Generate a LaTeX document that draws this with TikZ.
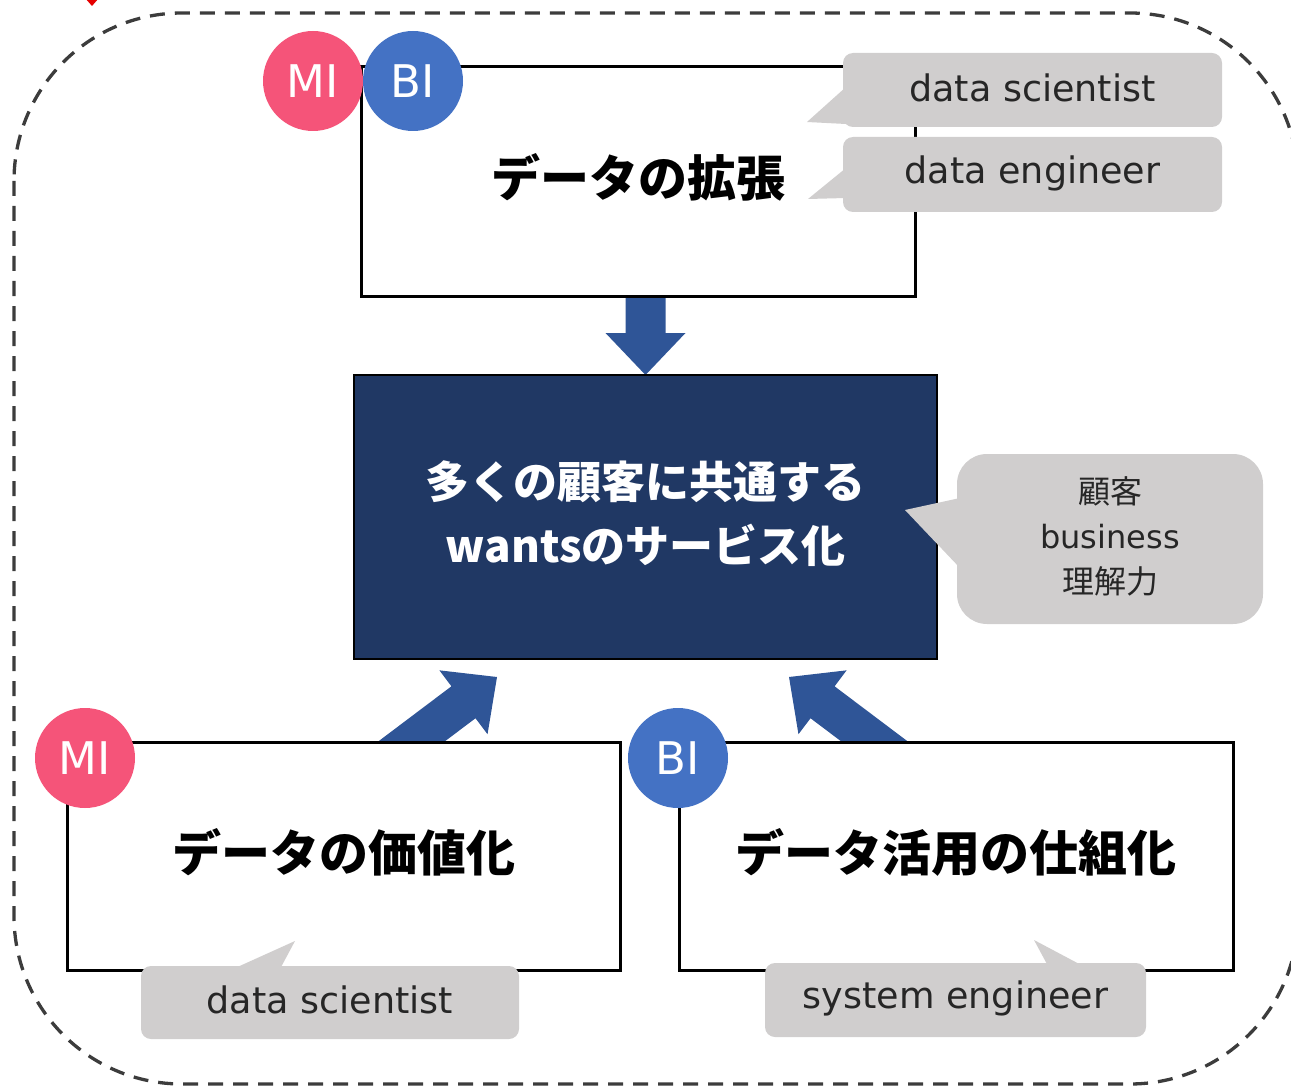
\documentclass[tikz,border=0pt]{standalone}
\usepackage{fontspec}
\newfontfamily\latin{DejaVu Sans}
\newfontfamily\cjk{Noto Sans CJK JP}
\usetikzlibrary{calc}

\definecolor{mipink}{HTML}{F55479}
\definecolor{biblue}{HTML}{4472C4}
\definecolor{arrowblue}{HTML}{2F5597}
\definecolor{navy}{HTML}{203864}
\definecolor{calloutgray}{HTML}{D0CECE}
\definecolor{callouttext}{HTML}{262626}
\definecolor{framegray}{HTML}{3C3C3C}

% block arrow: tip at #1, pointing in direction #2 (degrees), total length #3
\newcommand\blockarrow[3]{%
  \fill[arrowblue, shift={(#1)}, rotate=#2]
    (0,0) -- (-42,40) -- (-42,20) -- (-#3,20) -- (-#3,-20) -- (-42,-20) -- (-42,-40) -- cycle;}

\tikzset{
  frame/.style={draw=black, line width=3pt, fill=white, inner sep=0pt},
  title/.style={inner sep=0pt, font=\cjk\bfseries\fontsize{49}{58}\selectfont},
  callout/.style={fill=calloutgray, rounded corners=10pt, inner sep=0pt},
  callouttxt/.style={inner sep=0pt, text=callouttext, font=\latin\fontsize{36.5}{44}\selectfont},
  badge/.style={circle, minimum size=100pt, inner sep=0pt, text=white,
    font=\latin\fontsize{45}{54}\selectfont},
  tail/.style={fill=calloutgray},
}

\begin{document}
\begin{tikzpicture}[x=1pt, y=-1pt]
\useasboundingbox (0,0) rectangle (1291,1086);

% outer dashed boundary
\draw[framegray, line width=3.3pt, dash pattern=on 15pt off 10pt,
      rounded corners=168pt] (14,13) rectangle (1298,1084);

% red pointer entering from above
\fill[red!90!black] (85,-2) -- (99,-2) -- (92,6) -- cycle;

% coordinates of the block arrows
\coordinate (tipDown) at (645.5,375);
\coordinate (tipL) at (497,677);
\coordinate (tipR) at (789,677);

\blockarrow{tipDown}{-90}{79}
\blockarrow{tipL}{37}{150}
\blockarrow{tipR}{143}{150}

% boxes
\node[frame, minimum width=554pt, minimum height=229pt] (top) at (638,181.5) {};
\node[title] (topT) at ([yshift=4pt]top.center) {データの拡張};

\node[draw=black, line width=2.5pt, fill=navy, inner sep=0pt,
      minimum width=583pt, minimum height=284pt] (mid) at (645.5,517) {};
\node[inner sep=0pt, text=white, align=center,
      font=\cjk\bfseries\fontsize{44}{64}\selectfont] (midT) at ([yshift=3.5pt]mid.center)
      {多くの顧客に共通する\\wantsのサービス化};

\node[frame, minimum width=553pt, minimum height=228pt] (left) at (343.5,856) {};
\node[title] (leftT) at ([yshift=4pt]left.center) {データの価値化};
\node[frame, minimum width=554pt, minimum height=228pt] (right) at (956,856) {};
\node[title] (rightT) at ([yshift=4pt]right.center) {データ活用の仕組化};

% callouts
\fill[tail] (846,87) -- (807,122) -- (846,124) -- cycle;
\node[callout, minimum width=379pt, minimum height=74pt] (c1) at (1032.5,90) {};
\node[callouttxt] (c1T) at ([yshift=2pt]c1.center) {data scientist};
\fill[tail] (846,168) -- (808,199) -- (846,198) -- cycle;
\node[callout, minimum width=379pt, minimum height=75pt] (c2) at (1032.5,174.5) {};
\node[callouttxt] (c2T) at ([yshift=1pt]c2.center) {data engineer};

\fill[tail] (960,498) -- (905,510) -- (960,568) -- cycle;
\node[callout, rounded corners=30pt, minimum width=306pt, minimum height=170pt] (c3) at (1110,539) {};
\node[callouttxt, align=center, font=\latin\fontsize{32}{45}\selectfont] (c3T)
      at ([yshift=3pt]c3.center) {{\cjk 顧客}\\business\\{\cjk 理解力}};

\fill[tail] (233,969) -- (295,941) -- (280,969) -- cycle;
\node[callout, minimum width=378pt, minimum height=73pt] (c4) at (330,1002.5) {};
\node[callouttxt] (c4T) at ([yshift=3pt]c4.center) {data scientist};

\fill[tail] (1034,940) -- (1048,966) -- (1083,966) -- cycle;
\node[callout, minimum width=381pt, minimum height=74pt] (c5) at (955.5,1000) {};
\node[callouttxt] (c5T) at ([yshift=2pt]c5.center) {system engineer};

% role badges
\node[badge, fill=mipink] (mi1) at (313,81) {MI};
\node[badge, fill=biblue] (bi1) at (413,81) {BI};
\node[badge, fill=mipink] (mi2) at (85,758) {MI};
\node[badge, fill=biblue] (bi2) at (678,758) {BI};
\end{tikzpicture}
\end{document}
